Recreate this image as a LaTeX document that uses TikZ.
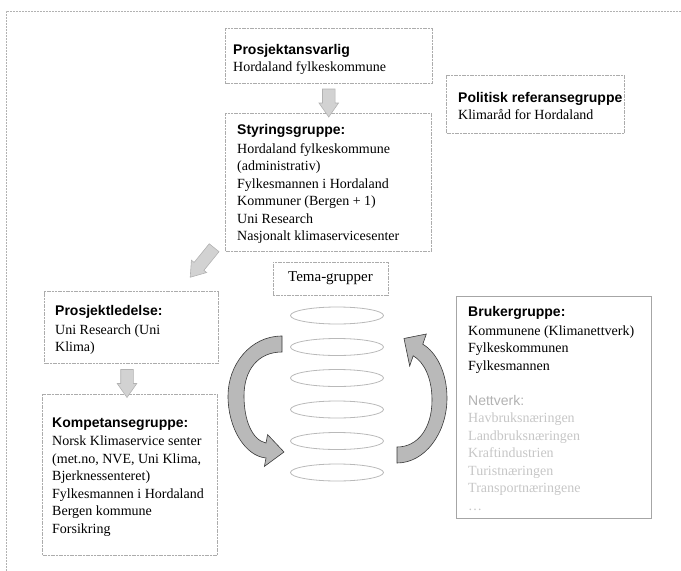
\documentclass[tikz,border=0pt]{standalone}
\usepackage{fontspec}
\setmainfont{Liberation Serif}
\newfontfamily\hsans{Liberation Sans}
\usetikzlibrary{shapes.geometric,shapes.arrows,calc}
\newcommand{\hd}[1]{{\hsans\bfseries #1}}
\begin{document}
\begin{tikzpicture}[x=1pt,y=-1pt,
  box/.style={draw=gray!65, line width=1pt, dash pattern=on 2pt off 0.7pt, rectangle, inner sep=0pt, anchor=north west},
  solidbox/.style={draw=gray!70, line width=1.3pt, rectangle, inner sep=0pt, anchor=north west},
  txt/.style={align=left, inner sep=0pt, anchor=north west, font=\fontsize{14}{17.5}\selectfont},
  ring/.style={ellipse, draw=gray!55, line width=0.8pt, minimum width=93pt, minimum height=17pt, inner sep=0pt},
  blockarrow/.style={single arrow, draw=gray!60, fill=gray!35, line width=0.6pt, inner sep=6pt, single arrow head extend=3.5pt, single arrow tip angle=70},
  bigarrow/.style={draw=gray!45!black, fill=gray!55, line width=0.6pt}
]
\useasboundingbox (0,0) rectangle (681,571);
% outer frame
\draw[gray!60, line width=0.8pt, dash pattern=on 2pt off 1pt] (681,11) -- (6,11) -- (6,571);

% boxes
\node[box, minimum width=207pt, minimum height=55pt] (pa) at (225,28) {};
\node[box, minimum width=178pt, minimum height=58pt] (pr) at (446,75) {};
\node[box, minimum width=206pt, minimum height=138pt] (sg) at (225,113) {};
\node[box, minimum width=174pt, minimum height=72pt] (pl) at (44,291) {};
\node[box, minimum width=175pt, minimum height=161pt] (kg) at (42,394) {};
\node[solidbox, minimum width=195pt, minimum height=222pt] (bg) at (456,296) {};
\node[box, anchor=center, minimum width=115pt, minimum height=33pt, font=\fontsize{15}{18}\selectfont] (tg) at (330.5,278.5) {Tema-grupper};

% texts
\node[txt] (pat) at (233,41.75) {\strut\hd{Prosjektansvarlig}\\[-0.5pt] Hordaland fylkeskommune};
\node[txt] (prt) at (458,89.75) {\strut\hd{Politisk referansegruppe}\\[-0.5pt] Klimaråd for Hordaland};
\node[txt] (sgt) at (237,121.75) {\strut\hd{Styringsgruppe:}\\[1.5pt] Hordaland fylkeskommune\\ (administrativ)\\ Fylkesmannen i Hordaland\\ Kommuner (Bergen + 1)\\ Uni Research\\ Nasjonalt klimaservicesenter};
\node[txt] (plt) at (55,302.75) {\strut\hd{Prosjektledelse:}\\[1.5pt] Uni Research (Uni\\ Klima)};
\node[txt] (kgt) at (52,414.75) {\strut\hd{Kompetansegruppe:}\\[1pt] Norsk Klimaservice senter\\ (met.no, NVE, Uni Klima,\\ Bjerknessenteret)\\ Fylkesmannen i Hordaland\\ Bergen kommune\\ Forsikring};
\node[txt] (bgt) at (468,303.75) {\strut\hd{Brukergruppe:}\\[1.5pt] Kommunene (Klimanettverk)\\ Fylkeskommunen\\ Fylkesmannen\\[17.5pt]
 {\color{gray!60}\hsans Nettverk:}\\ {\color{gray!45}Havbruksnæringen}\\ {\color{gray!45}Landbruksnæringen}\\ {\color{gray!45}Kraftindustrien}\\ {\color{gray!45}Turistnæringen}\\ {\color{gray!45}Transportnæringene}\\ {\color{gray!45}…}};

% rings
\foreach \i/\yy in {1/315.5,2/347,3/378,4/409.5,5/441,6/472.5}
  \node[ring] (e\i) at (337,\yy) {};

% block arrows
\node[blockarrow, rotate=-90, minimum height=28pt] (a1) at ($(pa.south)!0.5!(sg.north)$) {};
\node[blockarrow, rotate=231, minimum height=38pt] (a2) at (205,259) {};
\node[blockarrow, rotate=-90, minimum height=28pt] (a3) at (127,379) {};

% curved arrows
\draw[bigarrow] (282,336) .. controls (250,336) and (228,365) .. (228,396)
  .. controls (228,428) and (245,456) .. (266,458)
  -- (264.4,466.4) -- (284,452) -- (267.6,434.6) -- (266,443)
  .. controls (252,440) and (244,420) .. (244,396)
  .. controls (244,370) and (258,352) .. (282,352) -- cycle;
\draw[bigarrow] (397,463) .. controls (425,463) and (447,433) .. (447,398)
  .. controls (447,372) and (436,352) .. (422.8,344.2)
  -- (426.3,334.0) -- (404,338.5) -- (409.7,366.0) -- (413.2,355.8)
  .. controls (424,362) and (432,378) .. (432,400)
  .. controls (432,428) and (418,447) .. (397,447) -- cycle;
\end{tikzpicture}
\end{document}
